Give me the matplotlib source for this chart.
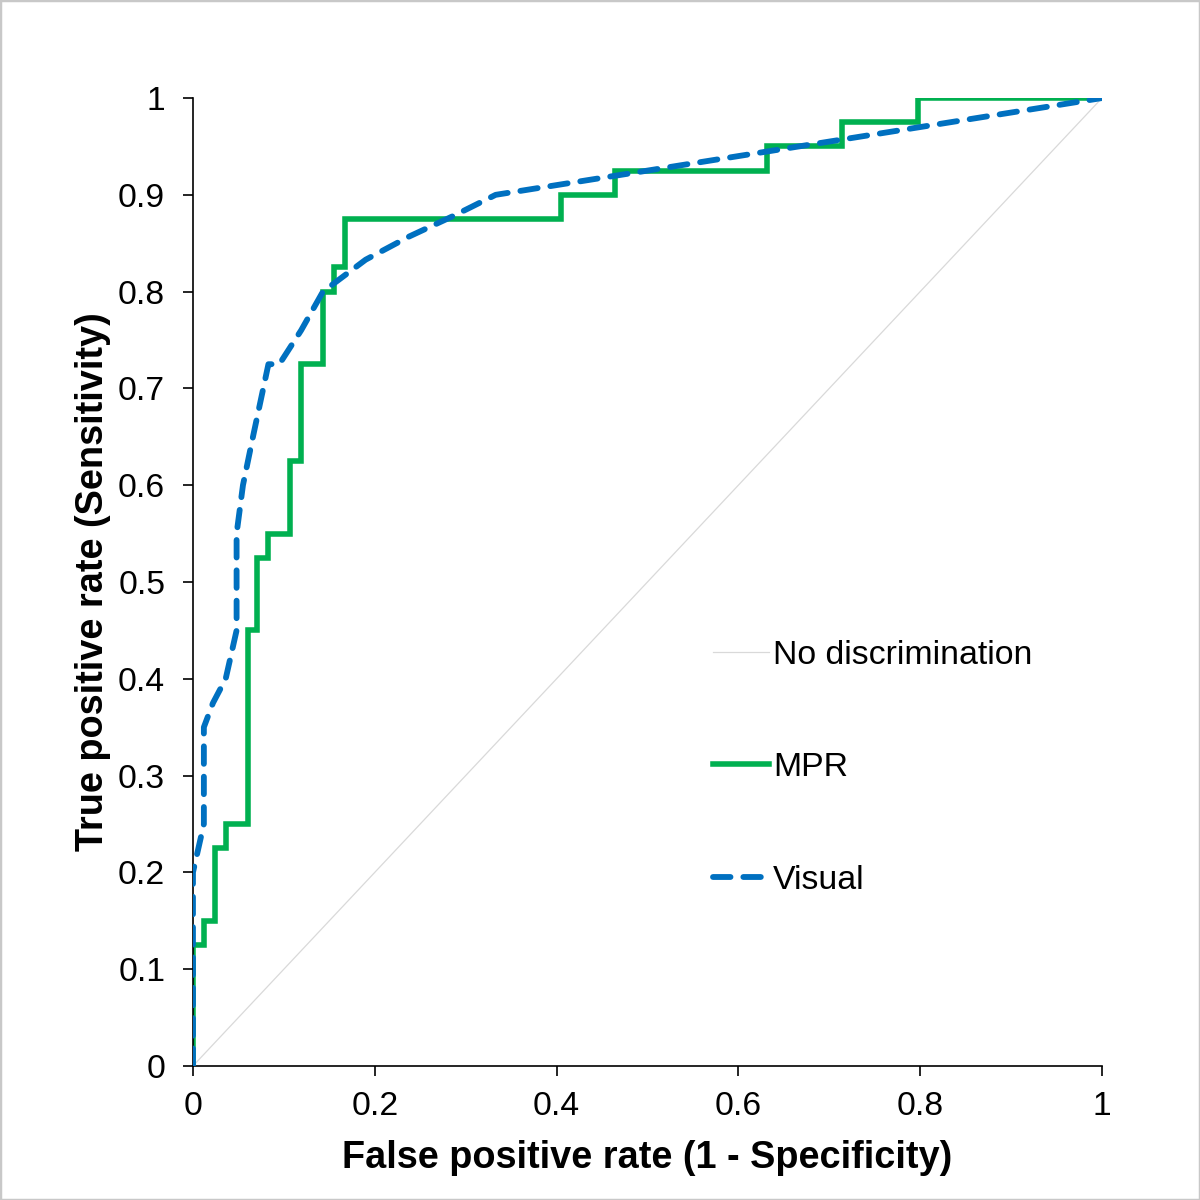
import matplotlib
matplotlib.use("Agg")
import matplotlib.pyplot as plt
from matplotlib.patches import Rectangle

# ---- data ----
diag_x = [0.0, 1.0]
diag_y = [0.0, 1.0]

mpr_fpr = [0, 0, 0.012, 0.024, 0.036, 0.060, 0.071, 0.083, 0.107, 0.119,
           0.143, 0.155, 0.167, 0.405, 0.464, 0.631, 0.714, 0.798, 1.0]
mpr_tpr = [0, 0.125, 0.15, 0.225, 0.25, 0.45, 0.525, 0.55, 0.625, 0.725,
           0.80, 0.825, 0.875, 0.90, 0.925, 0.95, 0.975, 1.0, 1.0]

vis_fpr = [0, 0, 0.012, 0.012, 0.022, 0.036, 0.048, 0.048, 0.055, 0.066,
           0.083, 0.095, 0.119, 0.143, 0.190, 0.238, 0.286, 0.333, 1.0]
vis_tpr = [0, 0.20, 0.25, 0.35, 0.375, 0.40, 0.45, 0.55, 0.60, 0.65,
           0.725, 0.725, 0.76, 0.80, 0.833, 0.857, 0.878, 0.90, 1.0]

ticks = [0, 0.1, 0.2, 0.3, 0.4, 0.5, 0.6, 0.7, 0.8, 0.9, 1.0]
tick_labels = ["0", "0.1", "0.2", "0.3", "0.4", "0.5", "0.6", "0.7", "0.8", "0.9", "1"]
xticks = [0, 0.2, 0.4, 0.6, 0.8, 1.0]
xtick_labels = ["0", "0.2", "0.4", "0.6", "0.8", "1"]

labels = ["No discrimination", "MPR", "Visual"]
colors = ["#d9d9d9", "#00B050", "#0070C0"]

plt.rcParams['font.family'] = ['Liberation Sans', 'DejaVu Sans']

fig = plt.figure(figsize=(12, 12), dpi=100)
ax = fig.add_axes([0.1608, 0.1117, 0.9183 - 0.1608, 0.9183 - 0.1117])

ax.plot(diag_x, diag_y, color=colors[0], lw=0.9, label=labels[0], zorder=1)
ax.plot(mpr_fpr, mpr_tpr, color=colors[1], lw=4.0, drawstyle='steps-post',
        solid_joinstyle='miter', label=labels[1], zorder=2)
ax.plot(vis_fpr, vis_tpr, color=colors[2], lw=4.2, linestyle=(0, (3.0, 2.2)),
        dash_capstyle='round', dash_joinstyle='round', label=labels[2], zorder=3)

ax.set_xlim(0, 1)
ax.set_ylim(0, 1)
ax.set_xticks(xticks)
ax.set_xticklabels(xtick_labels)
ax.set_yticks(ticks)
ax.set_yticklabels(tick_labels)
for s in ['top', 'right']:
    ax.spines[s].set_visible(False)
for s in ['left', 'bottom']:
    ax.spines[s].set_linewidth(1.2)
    ax.spines[s].set_clip_on(False)
ax.tick_params(axis='both', direction='out', length=7, width=1.2,
               labelsize=24.2, pad=11)
ax.tick_params(axis='y', pad=13)

ax.set_xlabel("False positive rate (1 - Specificity)", fontsize=27.3,
              fontweight='bold', labelpad=13)
ax.set_ylabel("True positive rate (Sensitivity)", fontsize=27.3,
              fontweight='bold', labelpad=5)

leg = ax.legend(loc='center left', bbox_to_anchor=(0.572, 0.308),
                frameon=False, fontsize=24.4, handlelength=1.65,
                handletextpad=0.12, labelspacing=2.4, borderpad=0,
                borderaxespad=0)

fig.patches.append(Rectangle((0, 0), 1, 1, transform=fig.transFigure,
                             fill=False, edgecolor="#c8c8c8", lw=2.5))

fig.savefig("out.png", dpi=100)
